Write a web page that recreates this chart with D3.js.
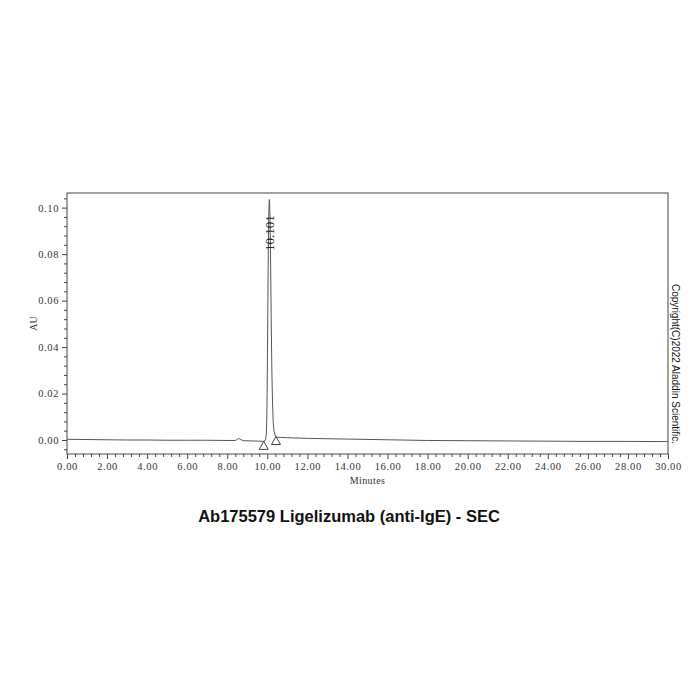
<!DOCTYPE html>
<html>
<head>
<meta charset="utf-8">
<script src="https://cdn.jsdelivr.net/npm/d3@7"></script>
<style>
  html, body { margin: 0; padding: 0; background: #ffffff; }
  svg { display: block; }
</style>
</head>
<body>
<svg id="chart" width="700" height="700"></svg>
<script>
// ---- data ----
const traceTime = [0, 1.0, 2.0, 3.0, 4.0, 5.0, 6.0, 7.0, 8.0, 8.4, 8.5, 8.56, 8.65, 8.8, 9.2, 9.6, 9.8, 9.88,
  9.92, 9.95, 9.97, 9.99, 10.01, 10.03, 10.05, 10.07, 10.09, 10.10, 10.11, 10.13, 10.15, 10.17, 10.19, 10.21,
  10.23, 10.26, 10.29, 10.33, 10.38, 10.43, 10.5, 10.7, 11.0, 12.0, 14.0, 16.0, 18.0, 20.0, 22.0, 24.0, 26.0, 28.0, 30.0];
const traceAU = [0.0003, 0.0002, 0.0001, 0.0000, 0.0000, -0.0001, -0.0001, -0.0001, -0.0002, -0.0002, 0.0003, 0.0007, 0.0003, -0.0003, -0.0004, -0.0005, -0.0006, -0.0003,
  0.0005, 0.003, 0.008, 0.020, 0.040, 0.062, 0.082, 0.096, 0.1025, 0.1035, 0.103, 0.097, 0.086, 0.071, 0.055, 0.040,
  0.028, 0.016, 0.008, 0.004, 0.0022, 0.0015, 0.0012, 0.0011, 0.0010, 0.0007, 0.0004, 0.0001, -0.0002, -0.0003, -0.0004, -0.0005, -0.0006, -0.0006, -0.0007];
const peakTimes = [10.101];
const peakHeights = [0.1035];
const baselineMarkTime = [9.82, 10.43];
const baselineMarkAU = [-0.0006, 0.0015];
const xTicks = [0, 2, 4, 6, 8, 10, 12, 14, 16, 18, 20, 22, 24, 26, 28, 30];
const yTicks = [0, 0.02, 0.04, 0.06, 0.08, 0.10];
const titleText = "Ab175579 Ligelizumab (anti-IgE) - SEC";
const xLabel = "Minutes";
const yLabel = "AU";
const copyright = "Copyright(C)2022 Aladdin Scientific.";

// ---- layout ----
const L = 67, R = 668, T = 193, B = 454;
const svg = d3.select("#chart");
const x = d3.scaleLinear().domain([0, 30]).range([L, R]);
const y = d3.scaleLinear().domain([-0.00602, 0.1063]).range([B, T]);

const axisColor = "#444";
const serif = "'Liberation Serif', 'DejaVu Serif', serif";

// frame
svg.append("rect").attr("x", L).attr("y", T).attr("width", R - L).attr("height", B - T)
  .attr("fill", "none").attr("stroke", axisColor).attr("stroke-width", 1);

// x axis
const xMinor = d3.range(0, 30.0001, 0.4).filter(v => Math.abs(v / 2 - Math.round(v / 2)) > 1e-6);
svg.append("g").attr("transform", `translate(0,${B})`)
  .call(d3.axisBottom(x).tickValues(xMinor).tickSize(3).tickFormat(""))
  .call(g => g.select(".domain").remove())
  .call(g => g.selectAll("line").attr("stroke", axisColor));
svg.append("g").attr("transform", `translate(0,${B})`)
  .call(d3.axisBottom(x).tickValues(xTicks).tickSize(5).tickPadding(4).tickFormat(d3.format(".2f")))
  .call(g => g.select(".domain").remove())
  .call(g => g.selectAll("line").attr("stroke", axisColor))
  .call(g => g.selectAll("text").attr("font-family", serif).attr("font-size", 10.5)
    .attr("letter-spacing", "0.6px").attr("fill", "#333"));

// y axis
const yMinor = d3.range(-0.004, 0.1041, 0.004).filter(v => Math.abs(v / 0.02 - Math.round(v / 0.02)) > 1e-6);
svg.append("g").attr("transform", `translate(${L},0)`)
  .call(d3.axisLeft(y).tickValues(yMinor).tickSize(3).tickFormat(""))
  .call(g => g.select(".domain").remove())
  .call(g => g.selectAll("line").attr("stroke", axisColor));
svg.append("g").attr("transform", `translate(${L},0)`)
  .call(d3.axisLeft(y).tickValues(yTicks).tickSize(5).tickPadding(3).tickFormat(d3.format(".2f")))
  .call(g => g.select(".domain").remove())
  .call(g => g.selectAll("line").attr("stroke", axisColor))
  .call(g => g.selectAll("text").attr("font-family", serif).attr("font-size", 10.5)
    .attr("letter-spacing", "0.6px").attr("fill", "#333"));

// trace
const pts = traceTime.map((t, i) => [t, traceAU[i]]);
svg.append("path").datum(pts)
  .attr("d", d3.line().x(d => x(d[0])).y(d => y(d[1])))
  .attr("fill", "none").attr("stroke", "#555").attr("stroke-width", 1);

// baseline markers (open triangles, apex at point)
baselineMarkTime.forEach((t, i) => {
  const px = x(t), py = y(baselineMarkAU[i]);
  svg.append("path")
    .attr("d", `M${px},${py} L${px - 4.5},${py + 8} L${px + 4.5},${py + 8} Z`)
    .attr("fill", "none").attr("stroke", "#444").attr("stroke-width", 1);
});

// peak labels
peakTimes.forEach((t, i) => {
  svg.append("text")
    .attr("transform", `translate(${x(t)},${y(0.089)}) rotate(-90)`)
    .attr("text-anchor", "middle").attr("dominant-baseline", "central")
    .attr("font-family", serif).attr("font-size", 13).attr("fill", "#222")
    .text(d3.format(".3f")(t));
});

// axis labels
svg.append("text").attr("x", (L + R) / 2).attr("y", 484).attr("text-anchor", "middle")
  .attr("font-family", serif).attr("font-size", 10).attr("letter-spacing", "0.4px").attr("fill", "#333").text(xLabel);
svg.append("text").attr("transform", `translate(37,${(T + B) / 2}) rotate(-90)`).attr("text-anchor", "middle")
  .attr("font-family", serif).attr("font-size", 10).attr("fill", "#333").text(yLabel);

// copyright
svg.append("text").attr("transform", `translate(672,${364}) rotate(90)`).attr("text-anchor", "middle")
  .attr("font-family", "'Liberation Sans', Arial, sans-serif").attr("font-size", 10).attr("fill", "#111").text(copyright);

// title
svg.append("text").attr("x", 349).attr("y", 522).attr("text-anchor", "middle")
  .attr("font-family", "'Liberation Sans', Arial, sans-serif").attr("font-weight", "bold")
  .attr("font-size", 16.5).attr("fill", "#111").text(titleText);
</script>
</body>
</html>
